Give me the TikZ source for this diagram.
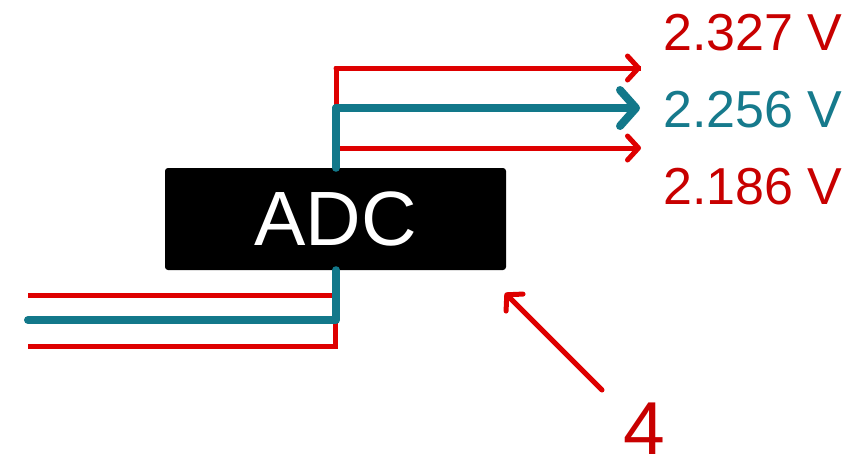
\documentclass[tikz,border=0pt]{standalone}
\usepackage{fontspec}
\setmainfont{Liberation Sans}
\usetikzlibrary{arrows.meta}
\definecolor{lred}{RGB}{222,0,0}
\definecolor{tred}{RGB}{200,0,0}
\definecolor{lteal}{RGB}{18,120,138}
\definecolor{tteal}{RGB}{22,122,140}
\tikzset{
  redline/.style={draw=lred,line width=5pt},
  tealline/.style={draw=lteal,line width=8pt,line cap=round,line join=round},
  redarrow/.style={redline,line cap=round,line join=round,-{Straight Barb[length=11pt,width=24pt,line cap=round,line join=round]}},
  tealarrow/.style={tealline,-{Straight Barb[length=16pt,width=36pt,line cap=round,line join=round]}},
  vlabel/.style={font=\fontsize{52}{52}\selectfont,anchor=west,inner sep=0pt},
  adcbox/.style={fill=black,rounded corners=3pt,minimum width=341pt,minimum height=102pt,inner sep=0pt,text=white,font=\fontsize{77}{77}\selectfont}
}
\begin{document}
\begin{tikzpicture}[x=1pt,y=-1pt]
\useasboundingbox (0,0) rectangle (861,459);
% coordinates
\coordinate (topR) at (641,68);
\coordinate (topC) at (336,68);
\coordinate (tealC) at (336,108);
\coordinate (tealR) at (640,108);
\coordinate (botRl) at (336,148);
\coordinate (botR) at (641,148);
\coordinate (inTop) at (28,295);
\coordinate (inTopE) at (336,295);
\coordinate (inMid) at (28,320);
\coordinate (inMidC) at (336,320);
\coordinate (inBot) at (28,346);
\coordinate (inBotC) at (335,346);
\coordinate (inBotV) at (335,320);
% red lines
\draw[redline,line join=round] (topC |- tealC) -- (topC) -- (topR);
\draw[redarrow] (topC) -- (topR);
\draw[redarrow] (botRl) -- (botR);
\draw[redline] (inTop) -- (inTopE);
\draw[redline,line join=miter] (inBot) -- (inBotC) -- (inBotV);
% box
\node[adcbox] (adc) at (335.5,219) {ADC};
% teal path
\draw[tealline] (inMid) -- (inMidC) -- (adc.south -| inMidC);
\draw[tealline] (adc.north -| tealC) -- (tealC);
\draw[tealarrow] (tealC) -- (tealR);
% labels
\node[vlabel,text=tred] (l1) at (663,33) {2.327 V};
\node[vlabel,text=tteal] (l2) at (663,110) {2.256 V};
\node[vlabel,text=tred] (l3) at (663,187) {2.186 V};
% pointer
\node[font=\fontsize{75}{75}\selectfont,text=tred,inner sep=0pt,anchor=base] (four) at (644,454) {4};
\coordinate (ptail) at (602,390);
\coordinate (ptip) at (505,293);
\draw[redarrow] (ptail) -- (ptip);
\end{tikzpicture}
\end{document}
